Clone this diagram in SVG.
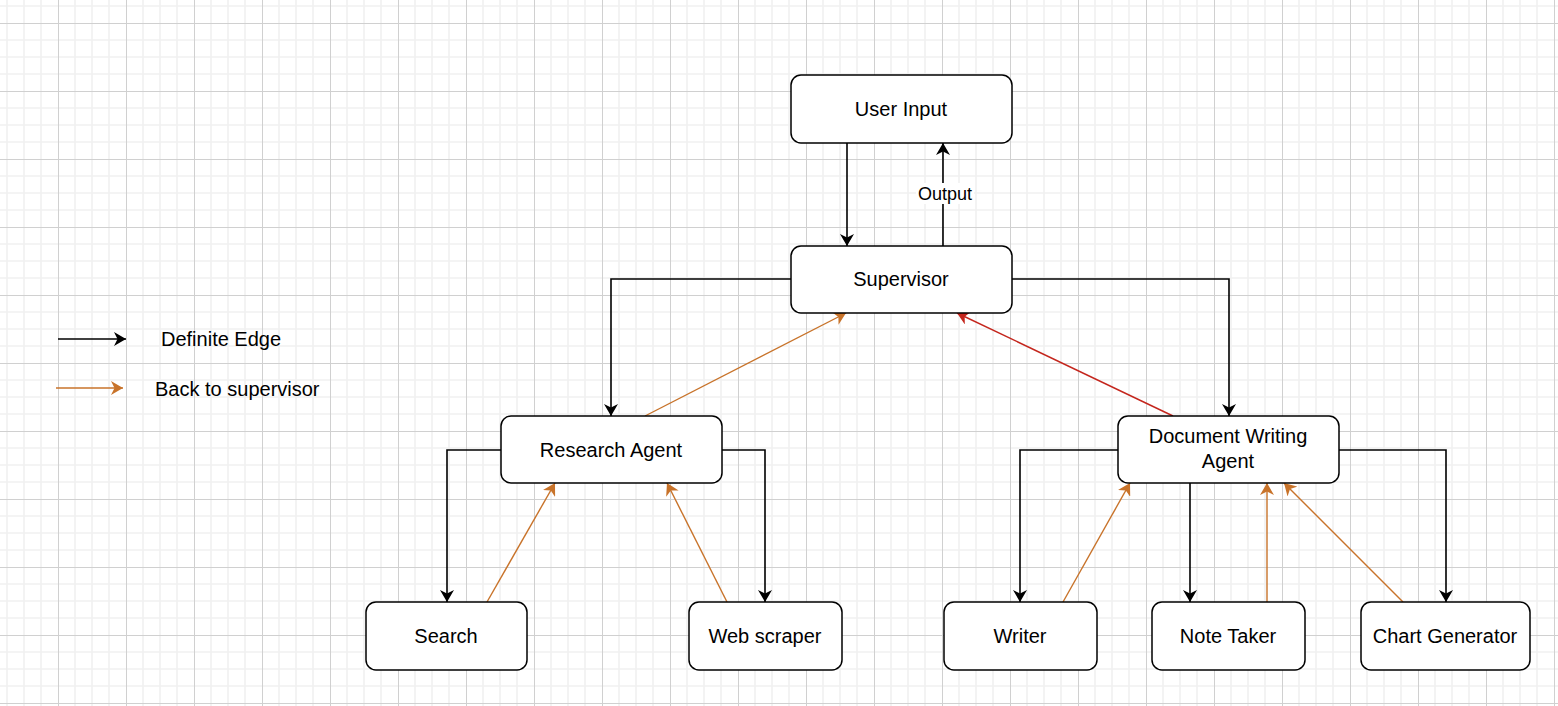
<svg xmlns="http://www.w3.org/2000/svg" width="1558" height="706" viewBox="0 0 1558 706">
<style>
.node rect{fill:#ffffff;stroke:#000000;stroke-width:1.5}
.node text,.legend text,.lbl{font-family:"Liberation Sans",Arial,Helvetica,sans-serif;font-size:20px;fill:#000000;text-anchor:middle}
.lbl{font-size:18px}
.blk{fill:none;stroke:#000000;stroke-width:1.6;marker-end:url(#ab)}
.org{fill:none;stroke:#c8732a;stroke-width:1.4;marker-end:url(#ao)}
.red{fill:none;stroke:#c4261d;stroke-width:1.4;marker-end:url(#ar)}
</style>
<defs>
<pattern id="grid" patternUnits="userSpaceOnUse" x="58" y="23" width="68" height="68">
<rect width="68" height="68" fill="#ffffff"/>
<g stroke="#f1f1f1" stroke-width="1.6">
<line x1="17" y1="0" x2="17" y2="68"/><line x1="34" y1="0" x2="34" y2="68"/><line x1="51" y1="0" x2="51" y2="68"/>
<line x1="0" y1="17" x2="68" y2="17"/><line x1="0" y1="34" x2="68" y2="34"/><line x1="0" y1="51" x2="68" y2="51"/>
</g>
<g stroke="#d0d0d0" stroke-width="1">
<line x1="0.5" y1="0" x2="0.5" y2="68"/><line x1="0" y1="0.5" x2="68" y2="0.5"/>
</g>
</pattern>
<marker id="ab" markerUnits="userSpaceOnUse" viewBox="0 0 12 14" refX="12" refY="7" markerWidth="12" markerHeight="14" orient="auto"><path d="M0,0 L12,7 L0,14 L3.5,7 Z" fill="#000000"/></marker>
<marker id="ao" markerUnits="userSpaceOnUse" viewBox="0 0 12 14" refX="12" refY="7" markerWidth="12" markerHeight="14" orient="auto"><path d="M0,0 L12,7 L0,14 L3.5,7 Z" fill="#c8732a"/></marker>
<marker id="ar" markerUnits="userSpaceOnUse" viewBox="0 0 12 14" refX="12" refY="7" markerWidth="12" markerHeight="14" orient="auto"><path d="M0,0 L12,7 L0,14 L3.5,7 Z" fill="#c4261d"/></marker>
</defs>
<rect width="1558" height="706" fill="url(#grid)"/>

<g id="connectors">
<path class="blk" d="M847,143 L847,246"/>
<path class="blk" d="M943,246 L943,143"/>
<rect x="916" y="183" width="58" height="21" fill="#ffffff"/>
<text class="lbl" x="945" y="200">Output</text>
<path class="blk" d="M791,279 L611,279 L611,416"/>
<path class="blk" d="M1012,279 L1229,279 L1229,416"/>
<path class="org" d="M645,416 L846,313"/>
<path class="red" d="M1173,416 L957,313"/>
<path class="blk" d="M501,450 L447,450 L447,602"/>
<path class="blk" d="M722,450 L765,450 L765,602"/>
<path class="org" d="M487,602 L555,483"/>
<path class="org" d="M727,602 L667,483"/>
<path class="blk" d="M1118,450 L1020,450 L1020,602"/>
<path class="blk" d="M1190,483 L1190,602"/>
<path class="blk" d="M1339,450 L1446,450 L1446,602"/>
<path class="org" d="M1063,602 L1130,483"/>
<path class="org" d="M1267,602 L1267,483"/>
<path class="org" d="M1403,602 L1284,483"/>
</g>

<g id="legend" class="legend">
<path class="blk" d="M58,339 L126,339"/>
<text x="161" y="346" style="text-anchor:start">Definite Edge</text>
<path class="org" d="M56,388 L123,388"/>
<text x="155" y="396" style="text-anchor:start">Back to supervisor</text>
</g>

<g id="user-input" class="node"><rect x="791" y="75" width="221" height="68" rx="10"/><text x="901" y="116">User Input</text></g>
<g id="supervisor" class="node"><rect x="791" y="246" width="221" height="67" rx="10"/><text x="901" y="286">Supervisor</text></g>
<g id="research-agent" class="node"><rect x="501" y="416" width="221" height="67" rx="10"/><text x="611" y="457">Research Agent</text></g>
<g id="document-writing-agent" class="node"><rect x="1118" y="416" width="221" height="67" rx="10"/><text x="1228" y="443">Document Writing</text><text x="1228" y="468">Agent</text></g>
<g id="search" class="node"><rect x="366" y="602" width="161" height="68" rx="10"/><text x="446" y="643">Search</text></g>
<g id="web-scraper" class="node"><rect x="689" y="602" width="153" height="68" rx="10"/><text x="765" y="643">Web scraper</text></g>
<g id="writer" class="node"><rect x="944" y="602" width="153" height="68" rx="10"/><text x="1020" y="643">Writer</text></g>
<g id="note-taker" class="node"><rect x="1152" y="602" width="153" height="68" rx="10"/><text x="1228" y="643">Note Taker</text></g>
<g id="chart-generator" class="node"><rect x="1361" y="602" width="169" height="68" rx="10"/><text x="1445" y="643">Chart Generator</text></g>
</svg>
